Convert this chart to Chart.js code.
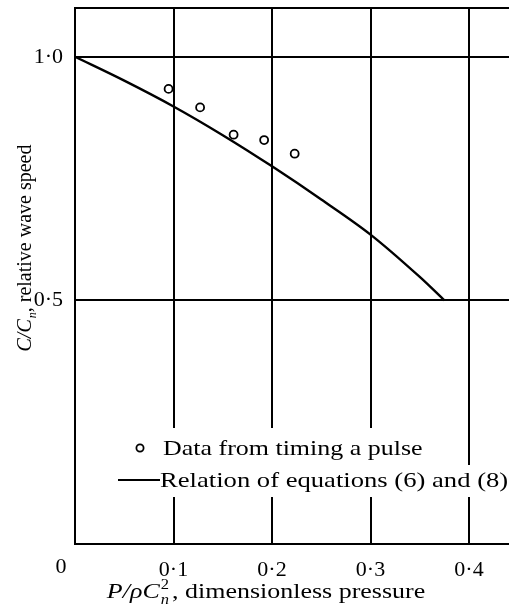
<!DOCTYPE html>
<html>
<head>
<meta charset="utf-8">
<script src="https://cdn.jsdelivr.net/npm/chart.js@4"></script>
<style>
  body { margin: 0; background: #fff; overflow: hidden; width: 509px; height: 608px; }
  canvas { display: block; }
</style>
</head>
<body>
<canvas id="chart" width="530" height="608"></canvas>
<script>
// values
const pulseX = [0.095, 0.127, 0.161, 0.192, 0.223];
const pulseY = [0.934, 0.896, 0.840, 0.829, 0.801];

const curveX = [0, 0.05, 0.1, 0.15, 0.2, 0.25, 0.3, 0.35, 0.375];
const curveY = [1.0, 0.951, 0.898, 0.839, 0.775, 0.707, 0.635, 0.548, 0.5];

const xTicks = [0, 0.1, 0.2, 0.3, 0.4];
const xTickLabels = ["", "0·1", "0·2", "0·3", "0·4"];
const yTicks = [0, 0.5, 1.0, 1.1];
const yTickLabels = ["", "0·5", "1·0", ""];

const serif = '"Liberation Serif", "DejaVu Serif", serif';
const WIDE = 1.18; // the book face is wider than Times, stretch custom text a bit

// draws a list of text pieces one after another, with C^2_n style stacks
function drawPieces(ctx, pieces, x, y, size) {
  let cx = x;
  const small = Math.round(size * 0.62);
  pieces.forEach((p) => {
    if (p.stack) {
      ctx.font = small + "px " + serif;
      ctx.fillText(p.stack[0], cx + 1, y - size * 0.42);
      ctx.font = "italic " + small + "px " + serif;
      ctx.fillText(p.stack[1], cx + 1, y + size * 0.25);
      cx += small * 0.75;
    } else if (p.sub) {
      ctx.font = "italic " + small + "px " + serif;
      ctx.fillText(p.sub, cx + 1, y + size * 0.25);
      cx += ctx.measureText(p.sub).width + 1;
    } else {
      ctx.font = (p.it ? "italic " : "") + size + "px " + serif;
      ctx.fillText(p.t, cx, y);
      cx += ctx.measureText(p.t).width;
    }
  });
  return cx - x;
}

function piecesWidth(ctx, pieces, size) {
  ctx.save();
  ctx.globalAlpha = 0;
  const w = drawPieces(ctx, pieces, 0, 0, size);
  ctx.restore();
  return w;
}

function stretchedText(ctx, text, x, y, k) {
  ctx.save();
  ctx.translate(x, y);
  ctx.scale(k, 1);
  ctx.fillText(text, 0, 0);
  ctx.restore();
}

const xTitle = [{ t: "P/ρC", it: true }, { stack: ["2", "n"] }, { t: ", dimensionless pressure" }];
const yTitle = [{ t: "C/C", it: true }, { sub: "n" }, { t: ", relative wave speed" }];

const extras = {
  id: "extras",
  afterDraw(chart) {
    const ctx = chart.ctx;
    ctx.save();
    ctx.fillStyle = "#000";
    ctx.textAlign = "left";

    // origin label
    ctx.font = "22px " + serif;
    ctx.textAlign = "center";
    ctx.textBaseline = "middle";
    ctx.fillText("0", 61, 567);
    ctx.textAlign = "left";
    ctx.textBaseline = "alphabetic";

    // x title
    ctx.save();
    ctx.translate(266, 598);
    ctx.scale(WIDE, 1);
    let w = piecesWidth(ctx, xTitle, 22);
    drawPieces(ctx, xTitle, -w / 2, 0, 22);
    ctx.restore();

    // y title
    ctx.save();
    ctx.translate(31, 248);
    ctx.rotate(-Math.PI / 2);
    w = piecesWidth(ctx, yTitle, 20);
    drawPieces(ctx, yTitle, -w / 2, 0, 20);
    ctx.restore();

    // legend, each row on its own white strip
    ctx.fillStyle = "#fff";
    ctx.fillRect(126, 428, 302, 37);
    ctx.fillRect(112, 465, 420, 32);
    ctx.fillStyle = "#000";
    ctx.strokeStyle = "#000";
    ctx.lineWidth = 1.8;
    ctx.beginPath();
    ctx.arc(140, 448, 3.6, 0, Math.PI * 2);
    ctx.stroke();
    ctx.lineWidth = 2;
    ctx.beginPath();
    ctx.moveTo(118, 480);
    ctx.lineTo(160, 480);
    ctx.stroke();
    ctx.font = "22px " + serif;
    ctx.textBaseline = "middle";
    stretchedText(ctx, "Data from timing a pulse", 163, 449, WIDE);
    stretchedText(ctx, "Relation of equations (6) and (8)", 160, 481, 1.21);
    ctx.restore();
  },
};

new Chart(document.getElementById("chart"), {
  type: "scatter",
  data: {
    datasets: [
      {
        label: "Data from timing a pulse",
        data: pulseX.map((x, i) => ({ x: x, y: pulseY[i] })),
        pointStyle: "circle",
        pointRadius: 4,
        pointBorderWidth: 1.8,
        pointBorderColor: "#000",
        pointBackgroundColor: "#fff",
        showLine: false,
      },
      {
        label: "Relation of equations (6) and (8)",
        data: curveX.map((x, i) => ({ x: x, y: curveY[i] })),
        showLine: true,
        borderColor: "#000",
        borderWidth: 2.4,
        pointRadius: 0,
        cubicInterpolationMode: "monotone",
      },
    ],
  },
  options: {
    responsive: false,
    animation: false,
    layout: { padding: { top: 8, left: 0, right: 0, bottom: 0 } },
    plugins: { legend: { display: false }, tooltip: { enabled: false } },
    scales: {
      x: {
        type: "linear",
        min: 0,
        max: 0.456,
        afterBuildTicks: (scale) => {
          scale.ticks = xTicks.map((v) => ({ value: v }));
        },
        afterFit: (scale) => {
          scale.height = 64;
        },
        ticks: {
          color: "#000",
          padding: 13,
          maxRotation: 0,
          font: { family: serif, size: 22 },
          callback: (v) => xTickLabels[xTicks.indexOf(v)] ?? "",
        },
        grid: { color: "#000", lineWidth: 2, drawTicks: false },
        border: { color: "#000", width: 2 },
      },
      y: {
        type: "linear",
        min: 0,
        max: 1.1,
        afterBuildTicks: (scale) => {
          scale.ticks = yTicks.map((v) => ({ value: v }));
        },
        afterFit: (scale) => {
          scale.width = 75;
          scale.paddingTop = 0;
          scale.paddingBottom = 0;
        },
        ticks: {
          color: "#000",
          padding: 12,
          font: { family: serif, size: 22 },
          callback: (v) => yTickLabels[yTicks.indexOf(v)] ?? "",
        },
        grid: { color: "#000", lineWidth: 2, drawTicks: false },
        border: { color: "#000", width: 2 },
      },
    },
  },
  plugins: [extras],
});
</script>
</body>
</html>
